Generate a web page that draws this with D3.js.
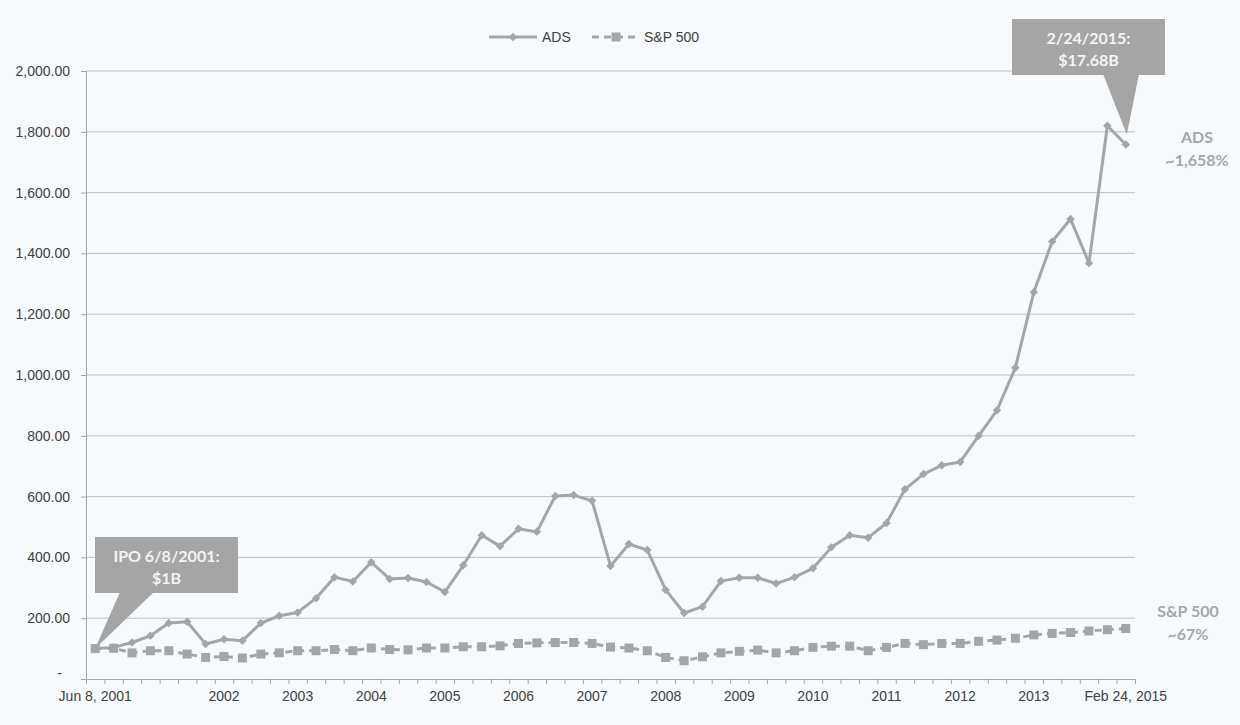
<!DOCTYPE html>
<html>
<head>
<meta charset="utf-8">
<script src="https://cdn.jsdelivr.net/npm/d3@7"></script>
<style>
    body { margin: 0; background: #f7fafd; }
    svg text { font-family: Arial, "Liberation Sans", sans-serif; }
    .axis text { font-size: 14px; fill: #404040; }
    .axis path, .axis line { stroke: #a6a6a6; }
    .note text { font-family: Lato, "Open Sans", sans-serif; font-weight: bold; }
</style>
</head>
<body>
<svg id="chart" width="1240" height="725"></svg>
<script>
// values (both indexed to 100 at the IPO)
var ads = [100, 104, 120, 142, 184, 188, 115, 131, 126, 184,
           208, 219, 266, 335, 321, 384, 329, 332, 319, 286,
           374, 473, 437, 494, 484, 602, 605, 586, 372, 444,
           424, 293, 217, 238, 322, 333, 333, 314, 335, 364,
           433, 473, 465, 513, 624, 674, 703, 714, 800, 884,
           1024, 1272, 1439, 1513, 1368, 1820, 1758];
var spx = [100, 101, 86, 93, 93, 82, 71, 74, 69, 82,
           86, 93, 93, 97, 93, 102, 97, 96, 102, 102,
           106, 106, 109, 117, 119, 120, 120, 117, 105, 102,
           93, 71, 60, 73, 86, 91, 95, 86, 93, 104,
           108, 108, 93, 104, 117, 113, 117, 117, 124, 128,
           134, 145, 150, 153, 158, 162, 166];

var tickIdx = [0, 7, 11, 15, 19, 23, 27, 31, 35, 39, 43, 47, 51, 56];
var tickText = ["Jun 8, 2001", "2002", "2003", "2004", "2005", "2006", "2007",
                "2008", "2009", "2010", "2011", "2012", "2013", "Feb 24, 2015"];
var yTicks = [0, 200, 400, 600, 800, 1000, 1200, 1400, 1600, 1800, 2000];

var seriesNames = ["ADS", "S&P 500"];
var endNotes = [["ADS", "~1,658%"], ["S&P 500", "~67%"]];
var calloutText = [["IPO 6/8/2001:", "$1B"], ["2/24/2015:", "$17.68B"]];

var grey = "#a5a5a5";
var svg = d3.select("#chart");
var plotLeft = 86, plotRight = 1135, plotTop = 71, plotBottom = 679;

svg.append("rect").attr("width", 1240).attr("height", 725).attr("fill", "#f7fafd");

var x = d3.scalePoint().domain(d3.range(ads.length)).range([plotLeft, plotRight]).padding(0.5);
var xi = d3.scaleLinear().domain([0, ads.length]).range([plotLeft, plotRight]);
var y = d3.scaleLinear().domain([0, 2000]).range([plotBottom, plotTop]);

// gridlines
svg.append("g")
    .selectAll("line")
    .data(yTicks.slice(1))
    .enter().append("line")
    .attr("x1", plotLeft).attr("x2", plotRight)
    .attr("y1", function (d) { return y(d); })
    .attr("y2", function (d) { return y(d); })
    .attr("stroke", "#bfbfbf");

// y axis
var yAxis = svg.append("g")
    .attr("class", "axis")
    .attr("transform", "translate(" + plotLeft + ",0)")
    .call(d3.axisLeft(y).tickValues(yTicks).tickSize(5).tickPadding(11)
        .tickFormat(function (d) { return d === 0 ? "-" : d3.format(",.2f")(d); }));
yAxis.selectAll(".tick")
    .filter(function (d) { return d === 0; })
    .select("text").attr("dx", "-8px").attr("dy", "-0.1em");

// x axis: a tick between every category
svg.append("g")
    .attr("class", "axis")
    .attr("transform", "translate(0," + plotBottom + ")")
    .call(d3.axisBottom(xi).tickValues(d3.range(ads.length + 1)).tickSize(5).tickSizeOuter(0).tickFormat(""));

svg.append("g")
    .attr("class", "axis")
    .selectAll("text")
    .data(tickIdx)
    .enter().append("text")
    .attr("x", function (d) { return x(d); })
    .attr("y", plotBottom + 17)
    .attr("dy", "0.35em")
    .attr("text-anchor", "middle")
    .text(function (d, i) { return tickText[i]; });

// lines
var line = d3.line()
    .x(function (d, i) { return x(i); })
    .y(function (d) { return y(d); });

svg.append("path").datum(spx)
    .attr("d", line).attr("fill", "none")
    .attr("stroke", grey).attr("stroke-width", 3).attr("stroke-dasharray", "7,5");

svg.append("path").datum(ads)
    .attr("d", line).attr("fill", "none")
    .attr("stroke", grey).attr("stroke-width", 3).attr("stroke-linejoin", "round");

svg.append("g").selectAll("rect")
    .data(spx)
    .enter().append("rect")
    .attr("x", function (d, i) { return x(i) - 4.5; })
    .attr("y", function (d) { return y(d) - 4.5; })
    .attr("width", 9).attr("height", 9)
    .attr("fill", grey);

var diamond = d3.symbol().type(d3.symbolSquare).size(36);
svg.append("g").selectAll("path")
    .data(ads)
    .enter().append("path")
    .attr("d", diamond)
    .attr("transform", function (d, i) { return "translate(" + x(i) + "," + y(d) + ") rotate(45)"; })
    .attr("fill", grey);

// legend
var legend = svg.append("g").attr("transform", "translate(0,37)");
legend.append("line").attr("x1", 489).attr("x2", 537)
    .attr("stroke", grey).attr("stroke-width", 3);
legend.append("path").attr("d", diamond)
    .attr("transform", "translate(513,0) rotate(45)").attr("fill", grey);
legend.append("line").attr("x1", 592).attr("x2", 640)
    .attr("stroke", grey).attr("stroke-width", 3).attr("stroke-dasharray", "7,5");
legend.append("rect").attr("x", 611.5).attr("y", -4.5).attr("width", 9).attr("height", 9).attr("fill", grey);
legend.selectAll("text")
    .data(seriesNames)
    .enter().append("text")
    .attr("x", function (d, i) { return i === 0 ? 542 : 644; })
    .attr("dy", "0.35em")
    .style("font-size", "14px")
    .attr("fill", "#404040")
    .text(function (d) { return d; });

// callouts
function callout(box, base, tip, lines) {
    var g = svg.append("g").attr("class", "note");
    g.append("rect")
        .attr("x", box[0]).attr("y", box[1])
        .attr("width", box[2] - box[0]).attr("height", box[3] - box[1])
        .attr("fill", grey);
    g.append("path")
        .attr("d", "M" + base[0] + "," + (box[3] - 1) + "L" + base[1] + "," + (box[3] - 1) + "L" + tip[0] + "," + tip[1] + "Z")
        .attr("fill", grey);
    g.selectAll("text")
        .data(lines)
        .enter().append("text")
        .attr("x", (box[0] + box[2]) / 2)
        .attr("y", function (d, i) { return box[1] + 19 + i * 22; })
        .attr("dy", "0.35em")
        .attr("text-anchor", "middle")
        .style("font-size", "16px")
        .attr("fill", "#f4f4f4")
        .text(function (d) { return d; });
}

callout([95, 537, 238, 593], [120, 154], [x(0), y(ads[0])], calloutText[0]);
var last = ads.length - 1;
callout([1012, 19, 1165, 75], [1103, 1139], [x(last) + 1, y(ads[last]) - 10], calloutText[1]);

// notes on the right
var notes = svg.append("g").attr("class", "note");
var noteX = [1197, 1188];
var noteY = [y(ads[last]) - 7, y(spx[last]) - 17];
endNotes.forEach(function (pair, k) {
    notes.selectAll(".n" + k)
        .data(pair)
        .enter().append("text")
        .attr("class", "n" + k)
        .attr("x", noteX[k])
        .attr("y", function (d, i) { return noteY[k] + i * 23; })
        .attr("dy", "0.35em")
        .attr("text-anchor", "middle")
        .style("font-size", "16px")
        .attr("fill", "#a6a6a6")
        .text(function (d) { return d; });
});
</script>
</body>
</html>
